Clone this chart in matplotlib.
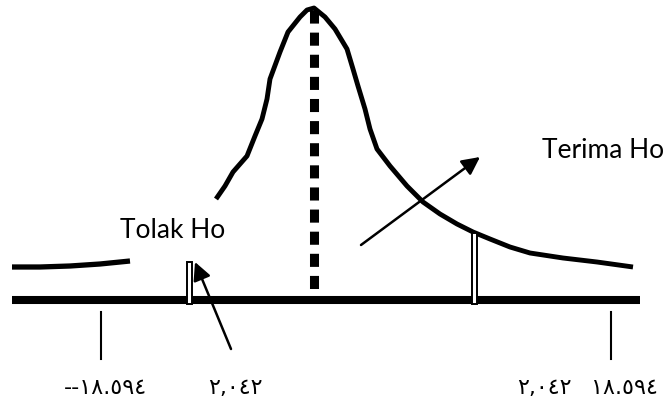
import matplotlib.pyplot as plt
from matplotlib.patches import Rectangle

W = 665
H = 406

# left tail of the curve (cut off before the "Tolak Ho" label)
tail_x = [12, 40, 70, 100, 130]
tail_y = [268, 268, 267, 265, 262]

# main part of the curve
curve_x = [216, 225, 233, 247, 255, 262, 267, 270, 280, 288, 300, 307, 314,
           325, 335, 347, 353, 358, 365, 370, 377, 390, 407, 423, 440, 457,
           473, 490, 510, 530, 563, 597, 633]
curve_y = [200, 187, 173, 157, 137, 120, 100, 80, 53, 33, 18, 11, 9,
           18, 30, 50, 70, 87, 110, 130, 150, 167, 187, 203, 215, 225,
           233, 240, 248, 254, 259, 263, 268]

base_y = 301
base_x = [12, 640]
center_x = 314
center_top = 11

crit_x = [189.5, 474.5]
crit_top = [263, 234]

tick_x = [101, 611]
tick_y = [313, 360]

label_x = [105, 235, 544, 624]
label_y = 388
labels = ['--١٨.٥٩٤', '٢,٠٤٢', '٢,٠٤٢', '١٨.٥٩٤']

arrow_tail = [(231, 350), (361, 246)]
arrow_head = [(195, 263), (480, 158)]

fig = plt.figure(figsize=(W / 100, H / 100), dpi=100)
ax = fig.add_axes([0, 0, 1, 1])
ax.set_axis_off()
ax.set_xlim(0, W)
ax.set_ylim(H, 0)

ax.plot(tail_x, tail_y, color='black', lw=3.8, solid_capstyle='butt')
ax.plot(curve_x, curve_y, color='black', lw=3.5, solid_capstyle='butt',
        solid_joinstyle='round')

ax.plot(base_x, [base_y, base_y], color='black', lw=5.8,
        solid_capstyle='butt', zorder=3)

ax.plot([center_x, center_x], [center_top, base_y - 3], color='black', lw=6.5,
        linestyle=(0, (1.45, 1.0)), dash_capstyle='butt', zorder=4)

for x, top in zip(crit_x, crit_top):
    ax.add_patch(Rectangle((x - 2.5, top), 5, base_y + 4 - top,
                           facecolor='white', edgecolor='black', lw=1.4,
                           zorder=5))

for x in tick_x:
    ax.plot([x, x], tick_y, color='black', lw=1.5)

for x, s in zip(label_x, labels):
    ax.text(x, label_y, s, ha='center', va='center', fontsize=16,
            family=['DejaVu Sans'])

for (x0, y0), (x1, y1) in zip(arrow_tail, arrow_head):
    ax.annotate('', xy=(x1, y1), xytext=(x0, y0),
                arrowprops=dict(arrowstyle='-|>,head_length=0.6,head_width=0.3',
                                color='black', lw=1.8, mutation_scale=18,
                                shrinkA=0, shrinkB=0), zorder=6)

ax.text(173, 231, 'Tolak Ho', ha='center', va='center', fontsize=19,
        family=['Lato', 'DejaVu Sans'])
ax.text(542, 151, 'Terima Ho', ha='left', va='center', fontsize=19,
        family=['Lato', 'DejaVu Sans'])

fig.savefig('out.png', dpi=100)
